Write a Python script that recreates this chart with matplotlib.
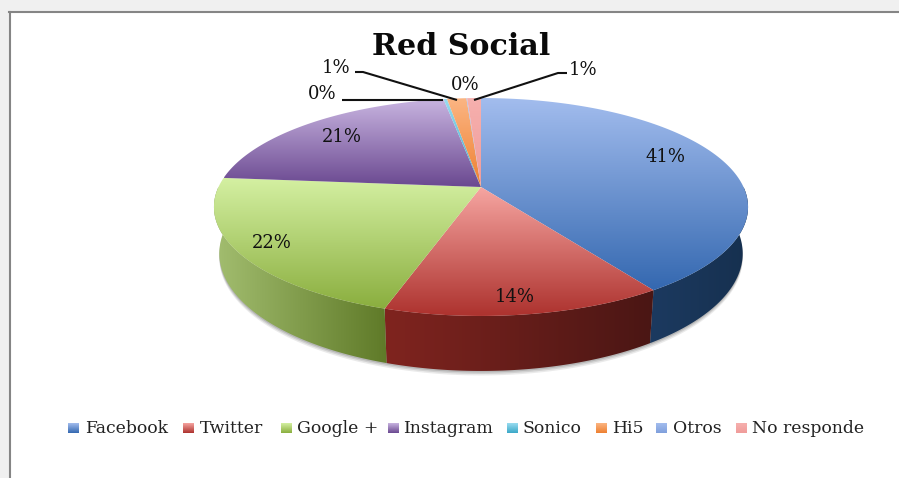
import numpy as np
import matplotlib

matplotlib.use("Agg")
import matplotlib.pyplot as plt
from matplotlib.colors import LinearSegmentedColormap
from matplotlib.patches import Polygon, Rectangle

categories = ["Facebook", "Twitter", "Google +", "Instagram", "Sonico", "Hi5", "Otros", "No responde"]
values = [40.6, 14.3, 21.5, 20.9, 0.25, 1.4, 0.05, 1.0]

# top gradient (light, dark), side gradient (left, right)
top_colors = ["#a3bdee #3468b0", "#f6a5a1 #ad322e", "#d4f0a2 #8aae3e", "#c8b4e0 #6a4890",
              "#9adcf0 #3aa8c8", "#fbb583 #ee8030", "#a3bdee #7f9fdc", "#f6b0ae #f09c9a"]
side_colors = ["#1c3a60 #16304f", "#80241f #4a1614", "#a3be70 #5f7a28", "#4a3266 #3a2650",
               "#2a7a90 #2a7a90", "#b05c20 #b05c20", "#5a78a8 #5a78a8", "#a86060 #a86060"]

# pie geometry in pixels, with a small perspective term
CX, CY = 481, 187
RX, RY, PERSP = 262.5, 105.3, 0.1835
DEPTH = 55
BOTTOM_SHRINK = 0.98


def rim(theta):
    w = 1 + PERSP * np.cos(theta)
    return CX + RX * np.sin(theta) / w, CY - RY * np.cos(theta) / w


def lower_rim(theta):
    x, y = rim(theta)
    w = 1 + PERSP * np.cos(theta)
    return CX + (x - CX) * BOTTOM_SHRINK, y + DEPTH * (1 - PERSP) / w


def fill_gradient(ax, patch, colors, horizontal=False):
    c0, c1 = colors.split()
    cmap = LinearSegmentedColormap.from_list("g", [c0, c1])
    ax.add_patch(patch)
    patch.set_facecolor("none")
    patch.set_edgecolor("none")
    xy = patch.get_xy()
    x0, x1, y0, y1 = xy[:, 0].min(), xy[:, 0].max(), xy[:, 1].min(), xy[:, 1].max()
    ramp = np.linspace(0, 1, 256)
    ramp = ramp[None, :] if horizontal else ramp[:, None]
    im = ax.imshow(ramp, cmap=cmap, extent=(x0, max(x1, x0 + 1), max(y1, y0 + 1), y0),
                   aspect="auto", interpolation="bilinear", zorder=patch.get_zorder())
    im.set_clip_path(patch)


fig = plt.figure(figsize=(8.99, 4.78), dpi=100)
ax = fig.add_axes([0, 0, 1, 1])
ax.set_axis_off()

fractions = np.array(values) / sum(values)
edges = np.concatenate([[0], np.cumsum(fractions)]) * 2 * np.pi

# soft shadow under the pie
t = np.linspace(np.pi / 2, 3 * np.pi / 2, 200)
x, y = rim(t)
lx, ly = lower_rim(t)
for off, alpha in zip([4.5, 3, 1.5], [0.14, 0.2, 0.28]):
    outline = np.vstack([np.column_stack([x, y]), np.column_stack([lx, ly + off])[::-1]])
    ax.add_patch(Polygon(outline, closed=True, fc="#707070", ec="none", alpha=alpha, zorder=1))

# side walls, only the part facing the viewer
for i in range(len(values)):
    a, b = max(edges[i], np.pi / 2), min(edges[i + 1], 3 * np.pi / 2)
    if b <= a:
        continue
    t = np.linspace(a, b, 80)
    x, y = rim(t)
    lx, ly = lower_rim(t)
    wall = np.vstack([np.column_stack([x, y]), np.column_stack([lx, ly])[::-1]])
    fill_gradient(ax, Polygon(wall, closed=True, zorder=2), side_colors[i], horizontal=True)

# top faces
for i in range(len(values)):
    t = np.linspace(edges[i], edges[i + 1], 120)
    x, y = rim(t)
    pts = np.vstack([[CX, CY], np.column_stack([x, y])])
    fill_gradient(ax, Polygon(pts, closed=True, zorder=3), top_colors[i])

# labels come from the values, positions picked to sit like the original
label_xy = [(665, 157), (515, 297), (272, 243), (342, 137), (322, 94), (336, 68), (465, 85), (583, 70)]
for v, (tx, ty) in zip(values, label_xy):
    ax.text(tx, ty, f"{round(v):d}%", ha="center", va="center", fontsize=13,
            family="DejaVu Serif", color="#111111", zorder=6)

# leader lines
leaders = [[(342, 100), (443, 100)], [(355, 72), (363, 72), (457, 100)], [(567, 73), (558, 73), (474, 100)]]
for line in leaders:
    xs, ys = zip(*line)
    ax.plot(xs, ys, color="#111111", lw=1.5, zorder=5, solid_capstyle="butt")

ax.text(461, 46, "Red Social", ha="center", va="center", fontsize=21.7, fontweight="bold",
        family="DejaVu Serif", color="#0a0a0a", zorder=6)

# legend
swatch_x = [68, 183, 281, 388, 507, 596, 656, 736]
text_x = [85, 200, 297, 403, 523, 612, 673, 752]
for i, name in enumerate(categories):
    sx = swatch_x[i]
    box = Polygon([(sx, 423), (sx + 11, 423), (sx + 11, 433), (sx, 433)], closed=True, zorder=4)
    fill_gradient(ax, box, top_colors[i])
    ax.text(text_x[i], 428.5, name, ha="left", va="center", fontsize=12.4,
            family="DejaVu Serif", color="#222222", zorder=6)

# page frame
ax.add_patch(Rectangle((0, 0), 9, 478, fc="#f0f0f0", ec="none", zorder=0))
ax.add_patch(Rectangle((0, 0), 899, 11, fc="#f0f0f0", ec="none", zorder=0))
ax.plot([9.5, 9.5], [11.5, 478], color="#858585", lw=1.5, zorder=5)
ax.plot([9, 899], [11.5, 11.5], color="#858585", lw=1.5, zorder=5)

ax.set_xlim(0, 899)
ax.set_ylim(478, 0)
fig.savefig("out.png", dpi=100)
plt.close(fig)
